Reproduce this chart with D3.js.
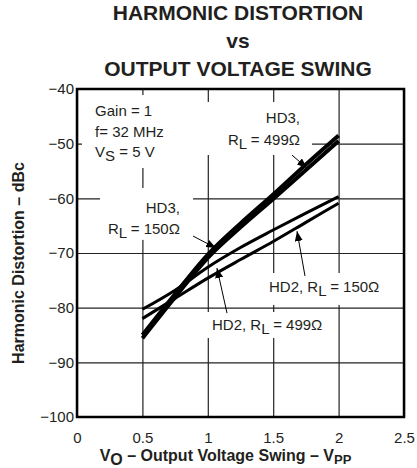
<!DOCTYPE html>
<html><head><meta charset="utf-8">
<script src="https://cdn.jsdelivr.net/npm/d3@7"></script>
<style>
html,body{margin:0;padding:0;background:#fff;}
svg{display:block;font-family:"Liberation Sans",Arial,Helvetica,sans-serif;}
</style></head>
<body>
<svg id="c" width="417" height="468"></svg>
<script>
// ---- data ----
const xTicks = [0, 0.5, 1, 1.5, 2, 2.5];
const xTickLabels = ["0", "0.5", "1", "1.5", "2", "2.5"];
const yTicks = [-100, -90, -80, -70, -60, -50, -40];
const yTickLabels = ["\u2212100", "\u221290", "\u221280", "\u221270", "\u221260", "\u221250", "\u221240"];
const vo = [0.5, 0.75, 1.0, 1.25, 1.5, 1.75, 2.0];
const hd3_499 = [-85.0, -77.5, -70.3, -64.6, -59.3, -53.8, -48.5];
const hd3_150 = [-85.6, -78.1, -70.9, -65.3, -60.1, -54.8, -49.5];
const hd2_upper = [-80.3, -76.8, -72.6, -69.0, -65.8, -62.7, -59.7];
const hd2_lower = [-82.0, -78.3, -74.6, -71.2, -67.9, -64.4, -60.9];

const W = 417, H = 468;
const plot = {l: 77, r: 404, t: 89, b: 417};
const svg = d3.select("#c");
const ink = "#231f20";

const x = d3.scaleLinear().domain([0, 2.5]).range([plot.l, plot.r]);
const y = d3.scaleLinear().domain([-100, -40]).range([plot.b, plot.t]);

// Title
const title = ["HARMONIC DISTORTION", "vs", "OUTPUT VOLTAGE SWING"];
const titleY = [20, 47.5, 76];
svg.selectAll("text.title").data(title).join("text")
  .attr("class", "title")
  .attr("x", 238).attr("y", (d, i) => titleY[i])
  .attr("text-anchor", "middle")
  .attr("font-size", 21).attr("font-weight", "bold").attr("fill", ink)
  .text(d => d);

// Grid + axes
const yAxis = d3.axisLeft(y).tickValues(yTicks)
  .tickFormat((d, i) => yTickLabels[i])
  .tickSizeInner(-(plot.r - plot.l)).tickSizeOuter(0).tickPadding(3);
const gy = svg.append("g").attr("transform", `translate(${plot.l},0)`).call(yAxis);
const xAxis = d3.axisBottom(x).tickValues(xTicks)
  .tickFormat((d, i) => xTickLabels[i])
  .tickSizeInner(-(plot.b - plot.t)).tickSizeOuter(0).tickPadding(15);
const gx = svg.append("g").attr("transform", `translate(0,${plot.b})`).call(xAxis);
[gx, gy].forEach(g => {
  g.select(".domain").remove();
  g.selectAll(".tick line").attr("stroke", "#222").attr("stroke-width", 1.2);
  g.selectAll(".tick text").attr("font-size", 15).attr("fill", ink)
    .attr("font-family", "Liberation Sans, Arial, sans-serif");
});

// White label boxes (cover grid)
const boxes = [
  [0.038, 0.971, -41.1, -54.45],
  [0.971, 1.797, -42.38, -52.07],
  [0.176, 0.887, -58.1, -67.6],
  [1.437, 2.408, -73.66, -79.5],
  [0.979, 1.972, -80.8, -85.55]
];
svg.selectAll("rect.box").data(boxes).join("rect")
  .attr("class", "box")
  .attr("x", d => x(d[0])).attr("width", d => x(d[1]) - x(d[0]))
  .attr("y", d => y(d[2])).attr("height", d => y(d[3]) - y(d[2]))
  .attr("fill", "#fff");

// Frame
svg.append("rect").attr("x", plot.l).attr("y", plot.t)
  .attr("width", plot.r - plot.l).attr("height", plot.b - plot.t)
  .attr("fill", "none").attr("stroke", "#000").attr("stroke-width", 2.5);

// Curves
const line = d3.line().x(d => x(d[0])).y(d => y(d[1])).curve(d3.curveMonotoneX);
const series = [
  {v: hd2_upper, w: 3},
  {v: hd2_lower, w: 3},
  {v: hd3_150, w: 4},
  {v: hd3_499, w: 4}
];
svg.selectAll("path.curve").data(series).join("path")
  .attr("class", "curve")
  .attr("d", s => line(vo.map((v, i) => [v, s.v[i]])))
  .attr("fill", "none").attr("stroke", "#000")
  .attr("stroke-width", s => s.w).attr("stroke-linejoin", "round");

// Arrowhead marker
svg.append("defs").append("marker")
  .attr("id", "ah").attr("viewBox", "0 0 10 8").attr("refX", 10).attr("refY", 4)
  .attr("markerWidth", 10).attr("markerHeight", 8)
  .attr("markerUnits", "userSpaceOnUse").attr("orient", "auto")
  .append("path").attr("d", "M0,0 L10,4 L0,8 Z").attr("fill", "#000");

const leaders = [
  [0.887, -66.9, 1.063, -69.1],
  [1.644, -52.1, 1.758, -54.45],
  [1.743, -74.2, 1.682, -66.0],
  [1.147, -81.0, 1.070, -72.75]
];
svg.selectAll("line.leader").data(leaders).join("line")
  .attr("class", "leader")
  .attr("x1", d => x(d[0])).attr("y1", d => y(d[1]))
  .attr("x2", d => x(d[2])).attr("y2", d => y(d[3]))
  .attr("stroke", "#000").attr("stroke-width", 1)
  .attr("marker-end", "url(#ah)");

// Text annotations helper
function label(xv, yv, parts, anchor) {
  const t = svg.append("text").attr("x", x(xv)).attr("y", y(yv))
    .attr("font-size", 15).attr("fill", ink).attr("text-anchor", anchor || "start");
  parts.forEach(p => {
    if (p.sub) {
      t.append("tspan").attr("dy", 4).text(p.t);
    } else {
      t.append("tspan").attr("dy", p.back ? -4 : 0).text(p.t);
    }
  });
  return t;
}
label(0.138, -44.94, [{t: "Gain = 1"}]);
label(0.138, -48.69, [{t: "f= 32 MHz"}]);
label(0.138, -52.44, [{t: "V"}, {t: "S", sub: true}, {t: " = 5 V", back: true}]);
label(0.787, -62.68, [{t: "HD3,"}], "end");
label(0.787, -66.52, [{t: "R"}, {t: "L", sub: true}, {t: " = 150\u03A9", back: true}], "end");
label(1.705, -46.22, [{t: "HD3,"}], "end");
label(1.705, -50.24, [{t: "R"}, {t: "L", sub: true}, {t: " = 499\u03A9", back: true}], "end");
label(1.468, -77.13, [{t: "HD2, R"}, {t: "L", sub: true}, {t: " = 150\u03A9", back: true}]);
label(1.032, -84.08, [{t: "HD2, R"}, {t: "L", sub: true}, {t: " = 499\u03A9", back: true}]);

// Axis titles
const xt = svg.append("text").attr("x", 225.5).attr("y", 461)
  .attr("text-anchor", "middle").attr("font-size", 16).attr("font-weight", "bold").attr("fill", ink);
xt.append("tspan").text("V");
xt.append("tspan").attr("dy", 4).text("O");
xt.append("tspan").attr("dy", -4).text(" \u2013 Output Voltage Swing \u2013 V");
xt.append("tspan").attr("dy", 3).attr("font-size", 13).text("PP");

svg.append("text").attr("transform", "translate(24,263) rotate(-90)")
  .attr("text-anchor", "middle").attr("font-size", 16).attr("font-weight", "bold").attr("fill", ink)
  .text("Harmonic Distortion \u2013 dBc");
</script>
</body></html>
